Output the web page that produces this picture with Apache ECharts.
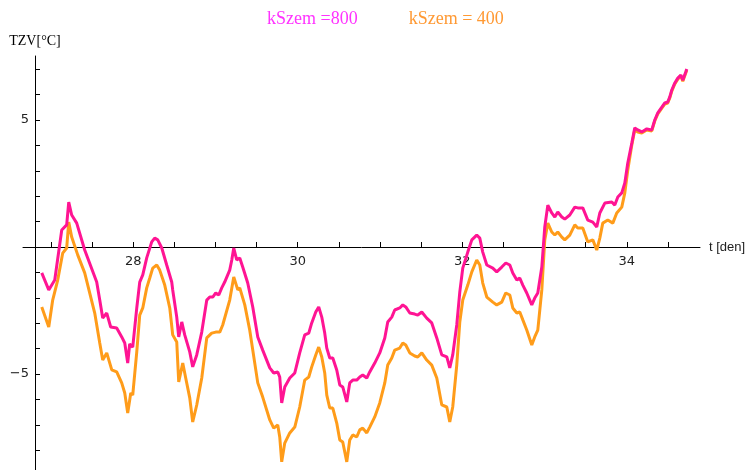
<!DOCTYPE html>
<html>
<head>
<meta charset="utf-8">
<script src="https://cdn.jsdelivr.net/npm/echarts@6/dist/echarts.min.js"></script>
<style>html,body{margin:0;padding:0;background:#fff}#c{width:750px;height:470px}</style>
</head>
<body>
<div id="c"></div>
<script>
// kSzem = 800 (pink)
const tPink = [26.888,26.973,27.046,27.131,27.191,27.216,27.252,27.313,27.410,27.556,27.593,27.629,27.678,27.726,27.799,27.860,27.897,27.933,27.957,27.994,
28.043,28.079,28.116,28.164,28.225,28.261,28.298,28.347,28.407,28.468,28.480,28.529,28.553,28.590,28.626,28.687,28.723,28.772,28.833,28.894,28.930,28.967,
29.003,29.040,29.076,29.112,29.173,29.198,29.222,29.258,29.295,29.331,29.392,29.453,29.514,29.574,29.660,29.708,29.757,29.781,29.805,29.842,29.903,29.964,
30.024,30.085,30.134,30.170,30.219,30.255,30.292,30.328,30.353,30.389,30.426,30.474,30.511,30.547,30.596,30.632,30.669,30.717,30.754,30.790,30.839,30.875,30.936,30.997,
31.058,31.094,31.143,31.179,31.240,31.277,31.313,31.362,31.422,31.459,31.508,31.568,31.629,31.690,31.751,31.812,31.848,31.884,31.933,31.970,
32.006,32.067,32.116,32.176,32.213,32.249,32.298,32.371,32.419,32.480,32.529,32.578,32.614,32.663,32.699,32.736,32.784,32.845,32.881,32.918,32.967,
33.003,33.040,33.088,33.125,33.161,33.210,33.246,33.307,33.368,33.404,33.465,33.526,33.587,33.635,33.672,33.733,33.818,33.854,33.891,33.939,33.976,
34.012,34.061,34.097,34.134,34.182,34.243,34.304,34.340,34.377,34.426,34.462,34.498,34.523,34.547,34.584,34.620,34.657,34.681,34.717,34.729];
const vPink = [-1.02,-1.69,-1.30,0.67,0.87,1.77,1.26,0.94,-0.12,-1.38,-2.09,-2.80,-2.60,-3.15,-3.19,-3.54,-3.78,-4.57,-3.82,-3.94,
-2.40,-1.38,-1.10,-0.43,0.20,0.35,0.28,-0.04,-0.71,-1.38,-1.69,-2.76,-3.54,-2.95,-3.46,-4.13,-4.72,-4.25,-3.35,-2.09,-1.97,-1.97,
-1.81,-1.89,-1.61,-1.38,-0.91,-0.51,-0.04,-0.51,-0.43,-0.79,-1.42,-2.36,-3.54,-4.06,-4.76,-4.96,-4.92,-5.12,-6.14,-5.51,-5.16,-4.96,
-4.17,-3.46,-3.39,-2.99,-2.56,-2.36,-2.76,-3.39,-3.98,-4.37,-4.37,-4.84,-5.43,-5.51,-6.10,-5.35,-5.24,-5.24,-5.12,-5.04,-5.16,-4.92,-4.57,-4.17,
-3.58,-2.95,-2.76,-2.48,-2.40,-2.28,-2.36,-2.60,-2.64,-2.68,-2.56,-2.80,-2.99,-3.58,-4.25,-4.33,-4.76,-4.25,-3.07,-1.77,
-0.83,-0.20,0.28,0.47,0.35,-0.20,-0.71,-0.83,-0.98,-0.79,-0.63,-0.71,-1.02,-1.30,-1.22,-1.50,-1.81,-2.28,-2.01,-1.81,-0.79,
0.79,1.65,1.34,1.18,1.38,1.18,1.10,1.26,1.57,1.54,1.54,1.06,0.98,0.79,1.34,1.73,1.77,1.65,1.97,2.13,2.52,
3.31,4.09,4.69,4.61,4.53,4.65,4.61,5.00,5.28,5.51,5.67,5.71,5.91,6.18,6.46,6.65,6.77,6.57,6.89,7.01];

// kSzem = 400 (orange)
const tOrange = [26.888,26.973,27.021,27.082,27.143,27.191,27.216,27.252,27.325,27.410,27.532,27.593,27.629,27.678,27.739,27.799,27.860,27.897,27.933,27.970,27.994,
28.043,28.079,28.116,28.164,28.201,28.237,28.286,28.322,28.383,28.444,28.480,28.529,28.553,28.602,28.638,28.687,28.723,28.772,28.833,28.894,28.954,29.003,29.052,29.088,
29.173,29.222,29.271,29.295,29.356,29.416,29.514,29.574,29.660,29.708,29.757,29.781,29.805,29.842,29.903,29.964,
30.024,30.085,30.134,30.170,30.219,30.255,30.292,30.328,30.353,30.389,30.426,30.474,30.511,30.547,30.596,30.632,30.669,30.717,30.754,30.790,30.839,30.875,30.936,30.997,
31.058,31.094,31.143,31.179,31.240,31.277,31.313,31.362,31.422,31.459,31.508,31.568,31.629,31.690,31.751,31.812,31.848,31.884,31.933,31.970,
32.006,32.067,32.116,32.176,32.213,32.249,32.298,32.371,32.419,32.480,32.529,32.578,32.614,32.663,32.699,32.736,32.784,32.845,32.881,32.918,32.967,
33.003,33.040,33.088,33.125,33.161,33.210,33.246,33.307,33.368,33.404,33.465,33.526,33.587,33.635,33.672,33.708,33.769,33.830,33.878,33.939,33.976,
34.012,34.061,34.097,34.134,34.182,34.243,34.304,34.340,34.377,34.426,34.462,34.498,34.523,34.547,34.584,34.620,34.657,34.681,34.717,34.729];
const vOrange = [-2.36,-3.15,-2.09,-1.30,-0.24,-0.04,0.98,0.39,-0.31,-1.02,-2.60,-3.78,-4.45,-4.17,-4.84,-4.92,-5.35,-5.75,-6.54,-5.75,-5.83,
-4.13,-2.68,-2.40,-1.61,-1.22,-0.83,-0.71,-0.91,-1.50,-2.40,-3.46,-3.74,-5.31,-4.57,-5.16,-5.94,-6.89,-6.22,-5.16,-3.58,-3.39,-3.35,-3.35,-3.07,
-2.09,-1.18,-1.69,-1.61,-2.28,-3.27,-5.35,-5.91,-6.81,-7.13,-7.01,-7.48,-8.46,-7.72,-7.32,-7.09,
-6.30,-5.24,-5.12,-4.72,-4.25,-3.94,-4.33,-4.96,-5.83,-6.34,-6.34,-6.93,-7.60,-7.68,-8.46,-7.60,-7.40,-7.48,-7.20,-7.13,-7.32,-7.09,-6.69,-6.14,
-5.35,-4.65,-4.37,-4.06,-3.98,-3.78,-3.86,-4.17,-4.29,-4.33,-4.17,-4.45,-4.65,-5.16,-6.22,-6.30,-6.89,-6.30,-4.65,-2.95,
-2.09,-1.50,-0.98,-0.51,-0.71,-1.42,-1.97,-2.17,-2.28,-2.17,-1.81,-1.89,-2.40,-2.60,-2.56,-2.87,-3.27,-3.86,-3.54,-3.27,-1.69,
0.28,0.94,0.59,0.47,0.59,0.39,0.28,0.47,0.87,0.75,0.75,0.20,0.28,-0.12,0.35,0.94,1.06,0.94,1.34,1.57,2.13,
3.03,4.02,4.61,4.53,4.49,4.61,4.57,4.96,5.24,5.47,5.63,5.67,5.87,6.14,6.42,6.61,6.73,6.53,6.85,6.97];

const xTicks = [27,27.5,28,28.5,29,29.5,30,30.5,31,31.5,32,32.5,33,33.5,34,34.5];
const xLabels = [28,30,32,34];
const yTicks = [-8,-7,-6,-5,-4,-3,-2,-1,1,2,3,4,5,6,7];
const yLabels = [-5,5];

const pinkData = tPink.map((t,i)=>[t,vPink[i]]);
const orangeData = tOrange.map((t,i)=>[t,vOrange[i]]);

const chart = echarts.init(document.getElementById('c'), null, {renderer:'canvas'});
chart.setOption({
  animation:false,
  backgroundColor:'#fff',
  legend:{
    left:257, top:5, itemGap:46, itemWidth:0, itemHeight:0, icon:'none',
    data:[
      {name:'kSzem =800', textStyle:{color:'#ff33ff'}},
      {name:'kSzem = 400', textStyle:{color:'#ff9933'}}
    ],
    textStyle:{fontFamily:'Liberation Serif', fontSize:18}
  },
  grid:{left:23, right:50, top:56, bottom:0, containLabel:false, outerBoundsMode:'none'},
  xAxis:{
    type:'value', min:26.66, max:34.89, position:'bottom', offset:-223,
    name:'t [den]', nameLocation:'end', nameGap:9,
    nameTextStyle:{color:'#222', fontFamily:'Liberation Sans', fontSize:13},
    axisLine:{onZero:false, lineStyle:{color:'#000', width:1}},
    axisTick:{show:true, inside:true, length:5, customValues:xTicks, lineStyle:{color:'#000'}},
    axisLabel:{customValues:xLabels, color:'#222', fontFamily:'DejaVu Sans', fontSize:13, margin:8},
    splitLine:{show:false}
  },
  yAxis:{
    type:'value', min:-8.78, max:7.52, offset:-12,
    name:'TZV[°C]', nameLocation:'end', nameGap:8,
    nameTextStyle:{color:'#000', fontFamily:'Liberation Serif', fontSize:14, align:'center'},
    axisLine:{show:true, onZero:false, lineStyle:{color:'#000', width:1}},
    axisTick:{show:true, inside:true, length:5, customValues:yTicks, lineStyle:{color:'#000'}},
    axisLabel:{customValues:yLabels, color:'#222', fontFamily:'DejaVu Sans', fontSize:13, margin:6,
      formatter:v=>String(v).replace('-','\u2212')},
    splitLine:{show:false}
  },
  series:[
    {name:'kSzem =800', type:'line', data:pinkData, showSymbol:false, z:3,
     lineStyle:{color:'#ff1493', width:3}, itemStyle:{color:'#ff1493'}},
    {name:'kSzem = 400', type:'line', data:orangeData, showSymbol:false, z:2,
     lineStyle:{color:'#ff9c1a', width:3}, itemStyle:{color:'#ff9c1a'}}
  ]
});
</script>
</body>
</html>
